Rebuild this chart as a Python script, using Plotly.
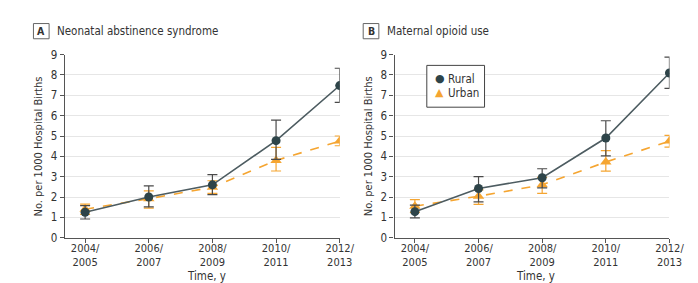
import plotly.graph_objects as go

periods = ["2004/<br>2005", "2006/<br>2007", "2008/<br>2009", "2010/<br>2011", "2012/<br>2013"]
xpos = [0, 1, 2, 3, 4]

# Panel A: Neonatal abstinence syndrome
a_rural = [1.25, 2.0, 2.6, 4.77, 7.48]
a_rural_lo = [0.92, 1.52, 2.12, 3.85, 6.65]
a_rural_hi = [1.58, 2.55, 3.1, 5.78, 8.33]
a_urban = [1.4, 1.92, 2.48, 3.8, 4.75]
a_urban_lo = [1.15, 1.45, 2.18, 3.28, 4.52]
a_urban_hi = [1.65, 2.3, 2.8, 4.44, 5.0]

# Panel B: Maternal opioid use
b_rural = [1.28, 2.42, 2.95, 4.9, 8.1]
b_rural_lo = [0.98, 1.76, 2.45, 4.02, 7.34]
b_rural_hi = [1.6, 3.0, 3.39, 5.75, 8.88]
b_urban = [1.55, 2.04, 2.6, 3.72, 4.75]
b_urban_lo = [1.25, 1.64, 2.18, 3.27, 4.45]
b_urban_hi = [1.87, 2.35, 2.97, 4.28, 5.03]

panel_titles = ["Neonatal abstinence syndrome", "Maternal opioid use"]
panel_letters = ["A", "B"]
series_names = ["Rural", "Urban"]
yticks = list(range(0, 10))
y_title = "No. per 1000 Hospital Births"
x_title = "Time, y"

RURAL_LINE = "#4d5c61"
RURAL_MARK = "#2e4449"
URBAN = "#f5a531"
AXIS = "#555555"
TEXT = "#333333"
FONT = "Liberation Sans Narrow, DejaVu Sans Condensed, sans-serif"

fig = go.Figure()

panels = [
    (a_rural, a_rural_lo, a_rural_hi, a_urban, a_urban_lo, a_urban_hi),
    (b_rural, b_rural_lo, b_rural_hi, b_urban, b_urban_lo, b_urban_hi),
]

for i, (r, rlo, rhi, u, ulo, uhi) in enumerate(panels):
    xa = "x" if i == 0 else "x2"
    ya = "y" if i == 0 else "y2"
    fig.add_trace(go.Scatter(
        x=xpos, y=u, xaxis=xa, yaxis=ya, mode="lines+markers", name=series_names[1],
        line=dict(color=URBAN, width=1.6, dash="dash"),
        marker=dict(symbol="triangle-up", size=10, color=URBAN),
        error_y=dict(type="data", symmetric=False,
                     array=[h - v for h, v in zip(uhi, u)],
                     arrayminus=[v - l for v, l in zip(u, ulo)],
                     color=URBAN, thickness=1.2, width=5),
        showlegend=False, hoverinfo="skip"))
    fig.add_trace(go.Scatter(
        x=xpos, y=r, xaxis=xa, yaxis=ya, mode="lines+markers", name=series_names[0],
        line=dict(color=RURAL_LINE, width=1.6),
        marker=dict(symbol="circle", size=9, color=RURAL_MARK),
        error_y=dict(type="data", symmetric=False,
                     array=[h - v for h, v in zip(rhi, r)],
                     arrayminus=[v - l for v, l in zip(r, rlo)],
                     color="#4a4a4a", thickness=1.2, width=5),
        showlegend=False, hoverinfo="skip"))

W, H = 698, 283
xdoms = [(58 / W, 339 / W), (395 / W, 676 / W)]
ydom = ((H - 234.3) / H, (H - 41.7) / H)

def xaxis_cfg(dom, anchor):
    return dict(domain=list(dom), anchor=anchor, range=[-0.32, 4.0],
                tickmode="array", tickvals=xpos, ticktext=periods,
                showline=True, linecolor=AXIS, linewidth=1.2,
                ticks="outside", ticklen=4, tickcolor=AXIS,
                ticklabelstandoff=-4,
                showgrid=False, zeroline=False,
                tickfont=dict(family=FONT, size=11, color=TEXT))

def yaxis_cfg(anchor):
    return dict(domain=list(ydom), anchor=anchor, range=[0, 9],
                tickmode="array", tickvals=yticks,
                showline=True, linecolor=AXIS, linewidth=1.2,
                ticks="outside", ticklen=4, tickcolor=AXIS,
                showgrid=True, gridcolor="#e6e6e6", gridwidth=1, zeroline=False,
                tickfont=dict(family=FONT, size=11.5, color=TEXT))

fig.update_layout(
    width=W, height=H,
    margin=dict(l=0, r=0, t=0, b=0),
    paper_bgcolor="white", plot_bgcolor="white",
    xaxis=xaxis_cfg(xdoms[0], "y"),
    yaxis=yaxis_cfg("x"),
    xaxis2=xaxis_cfg(xdoms[1], "y2"),
    yaxis2=yaxis_cfg("x2"),
    showlegend=False,
)

# axis titles
for dom in xdoms:
    fig.add_annotation(x=(dom[0] + dom[1]) / 2 + 4 / W, y=(H - 275) / H, xref="paper", yref="paper",
                       text=x_title, showarrow=False, xanchor="center", yanchor="middle",
                       font=dict(family=FONT, size=11.5, color=TEXT))
    fig.add_annotation(x=(dom[0] * W - 27) / W, y=(H - 138) / H, xref="paper", yref="paper",
                       text=y_title, showarrow=False, textangle=-90,
                       xanchor="center", yanchor="middle",
                       font=dict(family=FONT, size=11, color=TEXT))

# panel labels and titles
label_x = [26, 395 - 32]
for i in range(2):
    lx = label_x[i]
    fig.add_shape(type="rect", xref="paper", yref="paper",
                  x0=lx / W, x1=(lx + 16) / W, y0=(H - 25) / H, y1=(H - 9) / H,
                  line=dict(color="#666666", width=1), fillcolor="white")
    fig.add_annotation(x=(lx + 8) / W, y=(H - 17) / H, xref="paper", yref="paper",
                       text="<b>" + panel_letters[i] + "</b>", showarrow=False,
                       xanchor="center", yanchor="middle",
                       font=dict(family=FONT, size=10.5, color=TEXT))
    fig.add_annotation(x=(lx + 22) / W, y=(H - 17) / H, xref="paper", yref="paper",
                       text=panel_titles[i], showarrow=False,
                       xanchor="left", yanchor="middle",
                       font=dict(family=FONT, size=11.5, color=TEXT))

# legend (panel B)
fig.add_shape(type="rect", xref="paper", yref="paper",
              x0=428 / W, x1=487 / W, y0=(H - 97) / H, y1=(H - 53) / H,
              line=dict(color="#444444", width=1), fillcolor="white")
legend_syms = ["●", "▲"]
legend_cols = [RURAL_MARK, URBAN]
legend_y = [67, 82]
for name, sym, col, ly in zip(series_names, legend_syms, legend_cols, legend_y):
    fig.add_annotation(x=441 / W, y=(H - ly) / H, xref="paper", yref="paper",
                       text=sym, showarrow=False, xanchor="center", yanchor="middle",
                       font=dict(family="DejaVu Sans", size=11, color=col))
    fig.add_annotation(x=448 / W, y=(H - ly) / H, xref="paper", yref="paper",
                       text=name, showarrow=False, xanchor="left", yanchor="middle",
                       font=dict(family=FONT, size=11.5, color=TEXT))

fig.write_html("out.html")
